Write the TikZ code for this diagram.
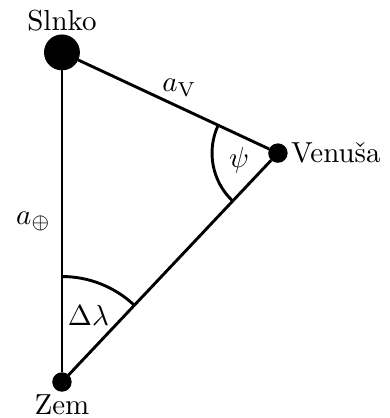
\documentclass[tikz,border=0pt]{standalone}
\usepackage{tikz}
\usetikzlibrary{positioning,angles,quotes}
\usepackage{amsmath}

\begin{document}
\begin{tikzpicture}[
		body/.style={circle,draw,fill=black,line width=1pt,inner sep=0pt,minimum size=2mm},
		bigbody/.style={body,minimum size=4mm},
		bodylabel/.style={inner sep=1pt},
		orbit/.style={line width=1pt},
		ang/.style={draw,line width=1pt}
	]
	\useasboundingbox (-0.752,-0.437) rectangle (3.98,4.636);
	\node[bigbody] (sun) at (0,4) {};
	\node[body] (earth) at (0,0) {};
	\node[body] (venus) at (2.621,2.778) {};
	\node[bodylabel,above=0pt of sun] (sunname) {Slnko};
	\node[bodylabel,below=0pt of earth] (earthname) {Zem};
	\node[bodylabel,right=0pt of venus] (venusname) {Venuša};
	\draw[orbit] (sun) -- node[above,pos=0.53] (av) {$a_\mathrm{V}$} (venus);
	\draw[orbit] (earth) -- node[left] (ae) {$a_\oplus$} (sun);
	\draw[orbit] (earth) -- (venus);
	\pic[ang,"$\Delta\lambda$",angle radius=1.28cm,angle eccentricity=0.68] {angle=venus--earth--sun};
	\pic[ang,"$\psi$",angle radius=0.8cm,angle eccentricity=0.6] {angle=sun--venus--earth};
\end{tikzpicture}
\end{document}
